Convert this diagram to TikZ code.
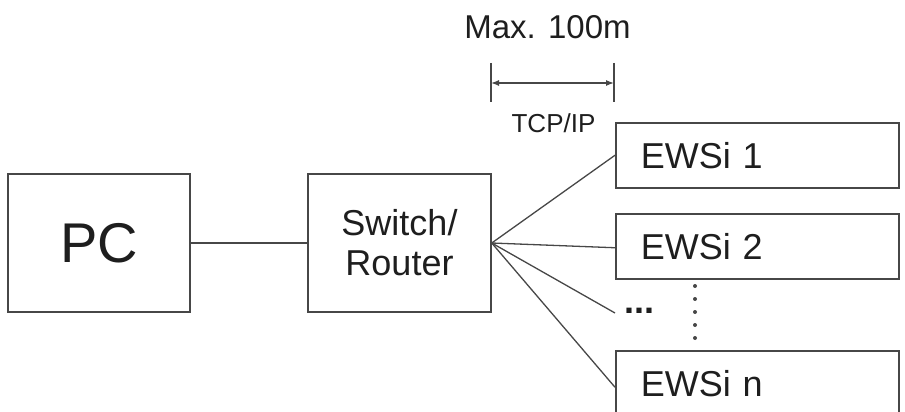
\documentclass[tikz,border=0pt]{standalone}
\usepackage{fontspec}
\setmainfont{Liberation Sans}
\usetikzlibrary{arrows.meta}
\definecolor{linegray}{HTML}{474747}
\definecolor{inkgray}{HTML}{1E1E1E}
\begin{document}
\begin{tikzpicture}[x=1pt,y=-1pt,
  box/.style={draw=linegray,line width=1.5pt,inner sep=0pt,text=inkgray},
  wire/.style={draw=linegray,line width=1.3pt},
  devbox/.style={box,minimum width=283pt,minimum height=65pt,anchor=north west,
    text width=233pt,align=left,font=\fontsize{36}{40}\selectfont},
  lbl/.style={text=inkgray,inner sep=0pt,anchor=base}]
\useasboundingbox (0,0) rectangle (905,412);
\clip (0,0) rectangle (905,412);

% main boxes
\node[box,minimum width=182pt,minimum height=138pt,font=\fontsize{56}{60}\selectfont]
  (pc) at (99,243) {PC};
\node[box,minimum width=183pt,minimum height=138pt,align=center,
  font=\fontsize{36}{40}\selectfont] (sw) at (399.5,243) {Switch/\\Router};

% end devices
\node[devbox] (e1) at (615,122) {EWSi 1};
\node[devbox] (e2) at (615,213) {EWSi 2};
\node[devbox] (en) at (615,350) {EWSi n};

% wiring
\draw[wire] (pc.east) -- (sw.west);
\coordinate (more) at (615,313);
\draw[wire] (sw.east) -- (e1.west);
\draw[wire] (sw.east) -- ([yshift=-1.5pt]e2.west);
\draw[wire] (sw.east) -- (more);
\draw[wire] (sw.east) -- ([yshift=-4pt]en.west);

% ellipsis for further devices
\node[lbl,font=\bfseries\fontsize{36}{40}\selectfont,anchor=base west] (dots) at (624,313) {...};
\coordinate (vtop) at (695,286);
\coordinate (vbot) at (695,339);
\draw[linegray,line width=4pt,line cap=round,dash pattern=on 0pt off 13pt] (vtop) -- (vbot);

% cable length dimension
\coordinate (d1a) at (491,63);
\coordinate (d1b) at (491,102);
\coordinate (d2a) at (614,63);
\coordinate (d2b) at (614,102);
\coordinate (m1) at (491,83);
\coordinate (m2) at (614,83);
\draw[wire] (d1a) -- (d1b);
\draw[wire] (d2a) -- (d2b);
\draw[wire,{Latex[length=8pt,width=6pt]}-{Latex[length=8pt,width=6pt]}] (m1) -- (m2);
\node[lbl,font=\fontsize{33}{36}\selectfont] (maxlen) at (547.5,39) {Max. 100m};
\node[lbl,font=\fontsize{26}{30}\selectfont] (proto) at (553.5,132) {TCP/IP};
\end{tikzpicture}
\end{document}
